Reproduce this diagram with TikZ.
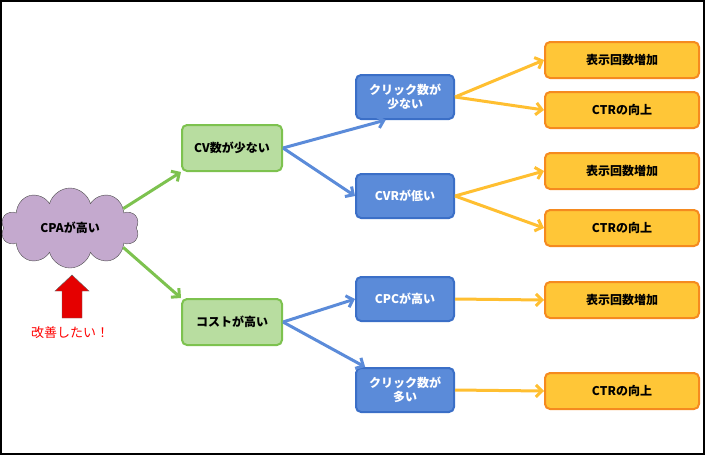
\documentclass[tikz,border=0pt]{standalone}
\usepackage{fontspec}
\setmainfont{Noto Sans CJK JP}
\usetikzlibrary{shapes.symbols,arrows.meta}
\definecolor{cloudfill}{HTML}{C4A9CE}
\definecolor{grfill}{HTML}{B8DDA0}
\definecolor{grline}{HTML}{7DC24F}
\definecolor{blfill}{HTML}{5B8BD9}
\definecolor{blline}{HTML}{3B6FC7}
\definecolor{orfill}{HTML}{FFC637}
\definecolor{orline}{HTML}{F58A1F}
\tikzset{
  gbox/.style={draw=grline, line width=2pt, fill=grfill, rounded corners=5pt, minimum width=100pt, minimum height=46pt, font=\bfseries\fontsize{12}{14}\selectfont, align=center},
  bbox/.style={draw=blline, line width=2pt, fill=blfill, rounded corners=5pt, minimum width=98pt, minimum height=44pt, text=white, font=\bfseries\fontsize{12}{14}\selectfont, align=center},
  obox/.style={draw=orline, line width=2pt, fill=orfill, rounded corners=5pt, minimum width=154pt, minimum height=36pt, font=\bfseries\fontsize{12}{14}\selectfont},
  garrow/.style={-{Straight Barb[length=6pt,width=12pt]}, grline, line width=3pt},
  barrow/.style={-{Straight Barb[length=6pt,width=12pt]}, blfill, line width=3pt},
  oarrow/.style={-{Straight Barb[length=6pt,width=12pt]}, orfill!90!orange, line width=3pt},
}
\begin{document}
\begin{tikzpicture}[x=1pt,y=-1pt]
        \useasboundingbox (0,0) rectangle (706,456);
        \draw[line width=1.5pt] (1,1) rectangle (704,454);
        % root
        \node[cloud, cloud puffs=10, aspect=1.8, draw=black!70, fill=cloudfill, minimum width=138pt, minimum height=80pt, font=\bfseries\fontsize{12}{14}\selectfont] (cpa) at (70,228) {CPAが高い};
        \draw[fill=red!90!black, draw=black!60] (62,318) -- (62,291) -- (55,291) -- (72,275) -- (89,291) -- (82,291) -- (82,318) -- cycle;
        \node[text=red, font=\fontsize{13}{15}\selectfont] (goal) at (70,333) {改善したい！};
        % level 1
        \node[gbox] (cv) at (232,148) {CV数が少ない};
        \node[gbox] (cost) at (232,322) {コストが高い};
        % level 2
        \node[bbox] (clk1) at (405,97) {クリック数が\\少ない};
        \node[bbox] (cvr) at (405,196) {CVRが低い};
        \node[bbox] (cpc) at (405,299) {CPCが高い};
        \node[bbox] (clk2) at (405,390) {クリック数が\\多い};
        % level 3
        \node[obox] (o1) at (622,60) {表示回数増加};
        \node[obox] (o2) at (622,110) {CTRの向上};
        \node[obox] (o3) at (622,171) {表示回数増加};
        \node[obox] (o4) at (622,228) {CTRの向上};
        \node[obox] (o5) at (622,300) {表示回数増加};
        \node[obox] (o6) at (622,391) {CTRの向上};
        % connectors
        \draw[garrow] (cpa.20) -- (cv.south west);
        \draw[garrow] (cpa.-20) -- (cost.north west);
        \draw[barrow] (cv.east) -- (clk1.230);
        \draw[barrow] (cv.east) -- (cvr.west);
        \draw[barrow] (cost.east) -- (cpc.west);
        \draw[barrow] (cost.east) -- (clk2.150);
        \draw[oarrow] (clk1.east) -- (o1.west);
        \draw[oarrow] (clk1.east) -- (o2.west);
        \draw[oarrow] (cvr.east) -- (o3.west);
        \draw[oarrow] (cvr.east) -- (o4.west);
        \draw[oarrow] (cpc.east) -- (o5.west);
        \draw[oarrow] (clk2.east) -- (o6.west);
\end{tikzpicture}
\end{document}
